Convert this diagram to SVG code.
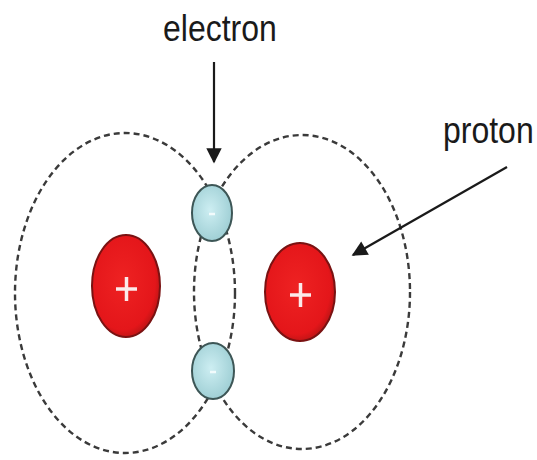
<svg xmlns="http://www.w3.org/2000/svg" width="537" height="460" viewBox="0 0 537 460">
<style>
.orbit{fill:none;stroke:#3a3a3a;stroke-width:2.4;stroke-dasharray:6 4}
.proton{fill:url(#pg);stroke:#7a1212;stroke-width:2}
.electron{fill:url(#eg);stroke:#3d5656;stroke-width:2}
.sign{stroke:#fbeaea;stroke-width:3.5;stroke-linecap:butt}
.esign{stroke:#f2fbfc;stroke-width:2.5}
.lbl{font-family:"Liberation Sans",Arial,sans-serif;font-size:32px;fill:#1a1a1a}
.arrow{stroke:#1a1a1a;stroke-width:2.2;fill:none}
</style>
<defs>
<radialGradient id="pg" cx="0.45" cy="0.45" r="0.6">
<stop offset="0" stop-color="#ee2222"/>
<stop offset="0.8" stop-color="#e4161a"/>
<stop offset="1" stop-color="#b01414"/>
</radialGradient>
<radialGradient id="eg" cx="0.45" cy="0.45" r="0.6">
<stop offset="0" stop-color="#cdeef2"/>
<stop offset="1" stop-color="#9ccdd3"/>
</radialGradient>
<marker id="ah" viewBox="0 0 10 10" refX="9" refY="5" markerWidth="7.5" markerHeight="7" markerUnits="strokeWidth" orient="auto">
<path d="M0,0 L10,5 L0,10 z" fill="#1a1a1a"/>
</marker>
</defs>
<rect width="537" height="460" fill="#fff"/>
<g id="orbit-left"><ellipse class="orbit" cx="125" cy="293" rx="110" ry="160"/></g>
<g id="orbit-right"><ellipse class="orbit" cx="302" cy="292" rx="108" ry="157"/></g>
<g id="proton-left">
<ellipse class="proton" cx="126" cy="286" rx="34" ry="51"/>
<line class="sign" x1="116" y1="289" x2="137" y2="289"/>
<line class="sign" x1="126.5" y1="277" x2="126.5" y2="301"/>
</g>
<g id="proton-right">
<ellipse class="proton" cx="300" cy="292" rx="35" ry="49"/>
<line class="sign" x1="290" y1="295" x2="311" y2="295"/>
<line class="sign" x1="300.5" y1="283" x2="300.5" y2="307"/>
</g>
<g id="electron-top">
<ellipse class="electron" cx="212" cy="213" rx="20" ry="28"/>
<line class="esign" x1="209" y1="214" x2="215" y2="214"/>
</g>
<g id="electron-bottom">
<ellipse class="electron" cx="213" cy="371" rx="21" ry="28"/>
<line class="esign" x1="210" y1="372" x2="216" y2="372"/>
</g>
<g id="label-electron"><text class="lbl" transform="translate(163,41) scale(1,1.15)">electron</text></g>
<g id="label-proton"><text class="lbl" transform="translate(443,143) scale(1,1.15)">proton</text></g>
<g id="connectors">
<line class="arrow" x1="214" y1="62" x2="214" y2="162" marker-end="url(#ah)"/>
<line class="arrow" x1="507" y1="167" x2="353" y2="255" marker-end="url(#ah)"/>
</g>
</svg>
